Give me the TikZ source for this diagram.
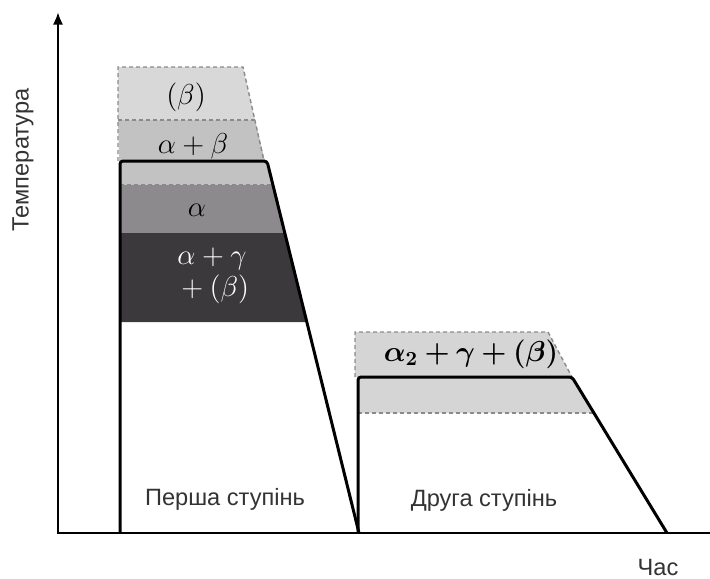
\documentclass[tikz,border=0pt]{standalone}
\usepackage{amsmath,bm}
\usepackage{fontspec}
\setsansfont{Liberation Sans}
\usetikzlibrary{arrows.meta}
\definecolor{betacol}{HTML}{D9D8D9}
\definecolor{abcol}{HTML}{C3C2C3}
\definecolor{alphacol}{HTML}{8C8A8C}
\definecolor{agbcol}{HTML}{3B393B}
\definecolor{secondcol}{HTML}{D5D5D5}
\definecolor{dashcol}{HTML}{8A8A8A}

\begin{document}
\begin{tikzpicture}[
  x=0.5pt, y=-0.5pt,
  axis/.style={line width=1.3pt, line cap=rect},
  stage/.style={line width=1.5pt, rounded corners=1.5pt},
  phase/.style={draw=dashcol, dashed, dash pattern=on 2pt off 1.5pt, line width=0.7pt},
  mlabel/.style={font=\fontsize{14.5}{17}\selectfont, align=center},
  slabel/.style={font=\sffamily\fontsize{11.8}{14}\selectfont, text=black!80},
]
\useasboundingbox (0,0) rectangle (710,578);

% ------------------------------------------------------------ first stage
\fill[betacol] (118,67) -- (243,67) -- (255,120) -- (118,120) -- cycle;
\fill[abcol] (118,120) -- (255,120) -- (265,161) -- (273,185) -- (120,185) -- cycle;
\fill[alphacol] (120,185) -- (273,185) -- (285,233) -- (120,233) -- cycle;
\fill[agbcol] (120,233) -- (285,233) -- (307,322) -- (120,322) -- cycle;

\draw[phase] (118,161) -- (118,67) -- (243,67) -- (264,161);
\draw[phase] (118,120) -- (255,120);
\draw[phase] (120,185) -- (273,185);

\node[mlabel] (beta)  at (186,97)  {$(\beta)$};
\node[mlabel] (ab)    at (193,146) {$\alpha+\beta$};
\node[mlabel] (alpha) at (197,210) {$\alpha$};
\node[mlabel, text=white] (agb) at (212,276)
  {$\alpha+\gamma$\\[-1pt] ${}+(\beta)$};

% ------------------------------------------------------------ second stage
\fill[secondcol] (355,332) -- (548,332) -- (572,377) -- (594,413) -- (358,413) -- (358,377) -- (355,377) -- cycle;

\draw[phase] (355,377) -- (355,332) -- (548,332) -- (572,377);
\draw[phase] (358,413) -- (594,413);

\node[mlabel] (second) at (471,354) {$\bm{\alpha_2+\gamma+(\beta)}$};

% ------------------------------------------------------------ outlines
\coordinate (o1) at (120,533);
\coordinate (e1) at (359,533);
\coordinate (o2) at (358,533);
\coordinate (e2) at (667,533);
\draw[stage] (o1) -- (120,161) -- (267,161) -- (e1);
\draw[stage] (o2) -- (358,377) -- (572,377) -- (e2);

% ------------------------------------------------------------ axes
\coordinate (origin) at (58,533);
\coordinate (ytop) at (58,12);
\coordinate (xend) at (710,533);
\draw[axis, -{Latex[length=2.2mm, width=1.8mm]}] (origin) -- (ytop);
\draw[axis] (origin) -- (xend);

\node[slabel, rotate=90] (temp) at (23,160) {Температура};
\node[slabel] (time) at (658,567) {Час};
\node[slabel] (st1) at (225,499) {Перша ступінь};
\node[slabel] (st2) at (484,500) {Друга ступінь};

\end{tikzpicture}
\end{document}
